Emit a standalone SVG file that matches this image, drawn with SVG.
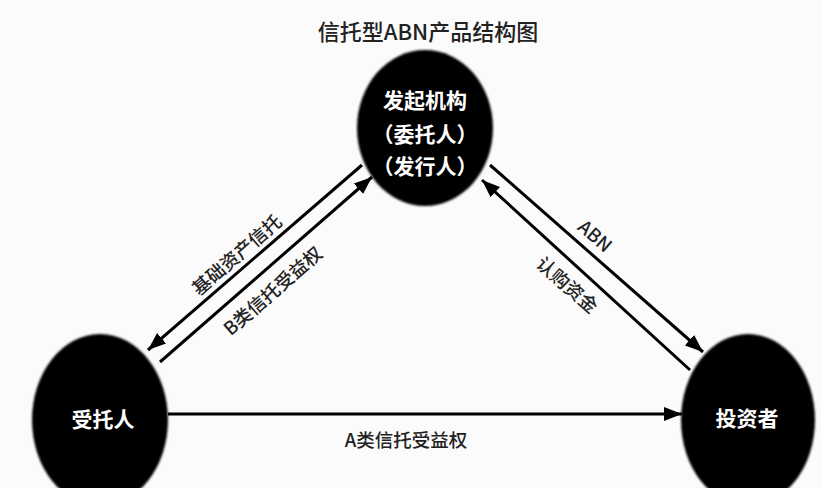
<svg xmlns="http://www.w3.org/2000/svg" width="821" height="488" viewBox="0 0 821 488">
  <defs>
    <style>
      .node { fill: #000; filter: url(#soft); }
      .ntext { fill: #fff; font-family: "Noto Sans CJK SC", "Noto Sans", sans-serif; font-weight: bold; font-size: 21px; text-anchor: middle; dominant-baseline: central; }
      .conn { stroke: #000; stroke-width: 3; fill: none; marker-end: url(#arrow); }
      .lbl { fill: #222; font-family: "Noto Sans CJK SC", "Noto Sans", sans-serif; font-size: 18.5px; font-weight: 500; text-anchor: middle; dominant-baseline: central; }
      .title { fill: #222; font-family: "Noto Sans CJK SC", "Noto Sans", sans-serif; font-size: 22px; font-weight: 500; text-anchor: middle; dominant-baseline: central; }
    </style>
    <filter id="soft" x="-10%" y="-10%" width="120%" height="120%">
      <feGaussianBlur stdDeviation="1.2"/>
    </filter>
    <marker id="arrow" markerUnits="userSpaceOnUse" markerWidth="20" markerHeight="16" refX="18" refY="7" orient="auto">
      <path d="M0,0 L18,7 L0,14 Z" fill="#000"/>
    </marker>
  </defs>
  <rect width="821" height="488" fill="#fbfbfb"/>
  <text class="title" x="428" y="30">信托型ABN产品结构图</text>

  <g id="connectors">
    <line class="conn" x1="362" y1="165" x2="148" y2="350"/>
    <line class="conn" x1="160" y1="362" x2="372" y2="177"/>
    <line class="conn" x1="490" y1="165" x2="703" y2="352"/>
    <line class="conn" x1="690" y1="370" x2="482" y2="180"/>
    <line class="conn" x1="168" y1="414" x2="682" y2="414"/>
    <text class="lbl" transform="translate(236,254) rotate(-41)">基础资产信托</text>
    <text class="lbl" transform="translate(272,290) rotate(-41)">B类信托受益权</text>
    <text class="lbl" transform="translate(596,235) rotate(41)">ABN</text>
    <text class="lbl" transform="translate(568,284) rotate(41)">认购资金</text>
    <text class="lbl" x="406" y="439">A类信托受益权</text>
  </g>

  <g id="node-originator">
    <ellipse class="node" cx="425" cy="128" rx="68" ry="78"/>
    <text class="ntext" x="425" y="99">发起机构</text>
    <text class="ntext" x="425" y="133">（委托人）</text>
    <text class="ntext" x="425" y="165">（发行人）</text>
  </g>
  <g id="node-trustee">
    <ellipse class="node" cx="100" cy="420" rx="68" ry="86"/>
    <text class="ntext" x="103" y="418">受托人</text>
  </g>
  <g id="node-investor">
    <ellipse class="node" cx="748" cy="420" rx="67" ry="86"/>
    <text class="ntext" x="747" y="417">投资者</text>
  </g>
</svg>
